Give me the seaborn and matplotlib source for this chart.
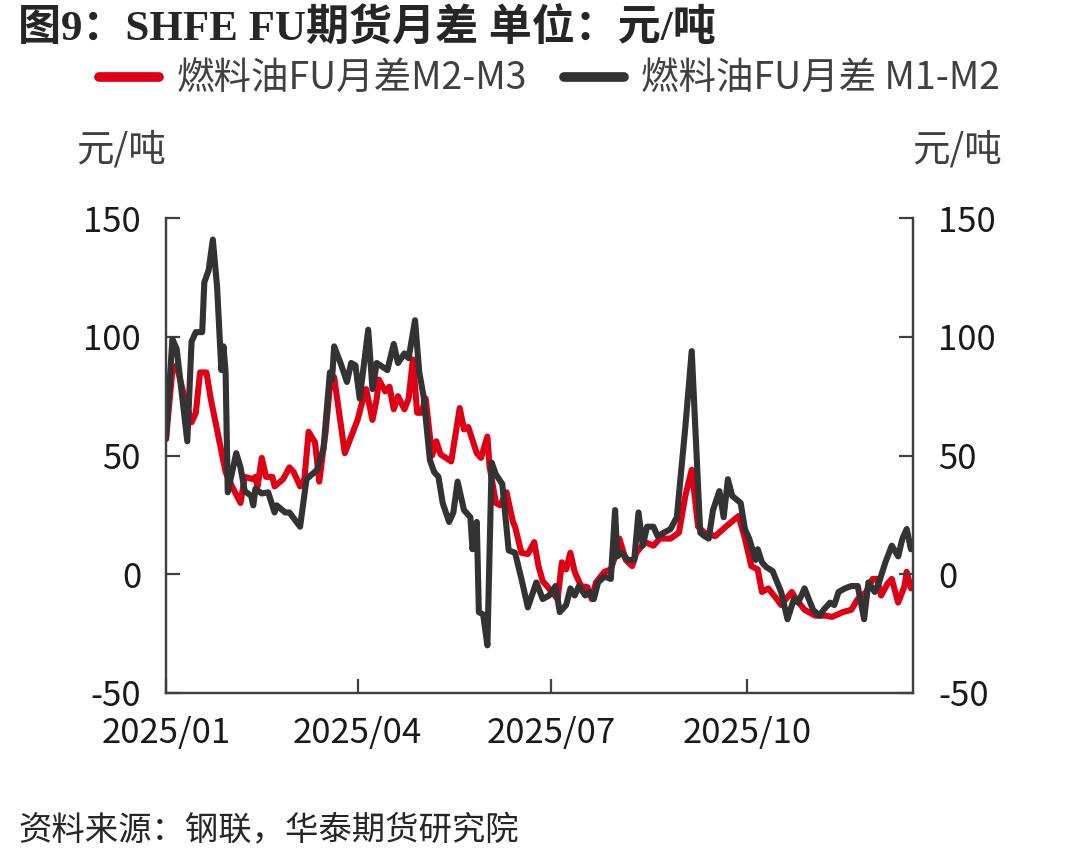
import pandas as pd
import numpy as np
import seaborn as sns
import matplotlib.pyplot as plt
import matplotlib.dates as mdates

# M2-M3 spread (red)
m23_dates = ['01-01', '01-04', '01-06', '01-09', '01-13', '01-15', '01-17', '01-20', '01-22', '01-29',
             '02-01', '02-05', '02-07', '02-11', '02-12', '02-13', '02-15', '02-17', '02-20', '02-21',
             '02-25', '02-28', '03-02', '03-05', '03-07', '03-09', '03-12', '03-14', '03-17', '03-19',
             '03-21', '03-26', '04-01', '04-03', '04-05', '04-08', '04-10', '04-11', '04-14', '04-16',
             '04-18', '04-20', '04-23', '04-25', '04-27', '04-29', '05-01', '05-03', '05-06', '05-08',
             '05-10', '05-15', '05-19', '05-21', '05-23', '05-27', '05-29', '06-01', '06-02', '06-05',
             '06-07', '06-10', '06-13', '06-14', '06-17', '06-20', '06-23', '06-25', '06-27', '06-29',
             '07-04', '07-06', '07-08', '07-10', '07-12', '07-15', '07-18', '07-20', '07-22', '07-26',
             '07-29', '07-31', '08-02', '08-05', '08-08', '08-10', '08-14', '08-18', '08-21', '08-26',
             '08-30', '09-02', '09-05', '09-08', '09-11', '09-16', '09-21', '09-27', '09-30', '10-03',
             '10-06', '10-08', '10-11', '10-15', '10-17', '10-22', '10-24', '10-28', '11-02', '11-07',
             '11-10', '11-15', '11-19', '11-22', '11-26', '11-29', '12-01', '12-03', '12-06', '12-08',
             '12-11', '12-14', '12-15', '12-17']
m23_values = [57, 86, 88, 77, 64, 68, 85, 85, 74, 43,
              37, 30, 41, 40, 41, 37, 49, 41, 41, 37,
              40, 45, 43, 37, 40, 60, 55.6, 39, 60, 79,
              83, 51, 65, 72, 78, 65, 74, 82, 77, 79,
              69.5, 75, 69.5, 74, 90.5, 68, 68, 74, 50, 56,
              50.5, 47.5, 70, 61, 62, 51, 49, 58, 45.5, 30,
              29, 34.5, 22, 20, 9, 8.5, 13.5, 3.4, -3, -5,
              -10.5, 5, 2, 9, 1, -5, -5.5, -10.5, -3.5, 1,
              2, 7.5, 15, 6, 3.4, 9, 13.5, 12, 15, 15,
              17.5, 33, 44, 20, 17.5, 16, 20, 24.5, 15, 3.4,
              2, -7.5, -6, -10.5, -13, -7.5, -10.5, -15, -17.5, -17.5,
              -18, -16, -15, -10.5, -7.5, -2, -2, -9, -4, -2,
              -12, -5, 1, -6]

# M1-M2 spread (dark grey)
m12_dates = ['01-01', '01-04', '01-06', '01-11', '01-13', '01-15', '01-18', '01-19', '01-21', '01-23',
             '01-25', '01-27', '01-28', '01-29', '01-30', '02-03', '02-05', '02-07', '02-10', '02-11',
             '02-12', '02-15', '02-18', '02-21', '02-22', '02-26', '02-28', '03-05', '03-08', '03-13',
             '03-16', '03-19', '03-20', '03-21', '03-24', '03-27', '03-29', '03-31', '04-02', '04-06',
             '04-08', '04-10', '04-15', '04-18', '04-20', '04-23', '04-25', '04-28', '04-30', '05-02',
             '05-05', '05-07', '05-09', '05-11', '05-14', '05-16', '05-18', '05-21', '05-24', '05-25',
             '05-27', '05-28', '05-30', '06-01', '06-03', '06-05', '06-08', '06-11', '06-14', '06-17',
             '06-20', '06-24', '06-27', '06-30', '07-03', '07-05', '07-08', '07-10', '07-12', '07-14',
             '07-17', '07-19', '07-21', '07-23', '07-26', '07-29', '07-31', '08-01', '08-03', '08-06',
             '08-09', '08-11', '08-13', '08-15', '08-18', '08-20', '08-23', '08-26', '08-29', '09-02',
             '09-05', '09-09', '09-11', '09-13', '09-15', '09-18', '09-20', '09-22', '09-24', '09-28',
             '09-30', '10-02', '10-05', '10-06', '10-08', '10-10', '10-13', '10-17', '10-20', '10-23',
             '10-25', '10-28', '11-01', '11-04', '11-06', '11-09', '11-11', '11-13', '11-16', '11-19',
             '11-22', '11-25', '11-27', '11-30', '12-02', '12-05', '12-08', '12-11', '12-13', '12-15',
             '12-17']
m12_values = [57, 99, 95, 56, 98, 102, 102, 123, 128, 141,
              121, 86, 96, 85, 34.5, 51, 45, 35, 33, 29,
              36, 34, 34.5, 26, 29, 26, 26, 20, 40, 44,
              53, 85, 82, 96, 89, 81, 89, 88, 74, 103,
              78, 89, 86, 97, 89, 93, 91, 107, 85, 75,
              48, 43, 41, 30, 22, 26, 39, 27, 24, 10.5,
              22, -16, -17, -30, 47, 42, 38, 10, 9, -2,
              -14, -3.5, -10.5, -9, -5, -16, -13, -6, -9, -5,
              -9, -7.5, -10.5, -3.5, -1, -2, 27, 7.5, 9, 6,
              6, 26, 12, 20, 20, 16, 17.5, 19, 24, 62,
              94, 17.5, 16, 15, 27, 35, 24, 40, 33, 30,
              19, 15, 6, 10.5, 5, 3, 1.3, -7.5, -19, -10.5,
              -12, -6, -15, -17.5, -15, -12, -13, -7.5, -6, -5,
              -5, -19, -3.5, -7.5, -3.5, 5, 12, 7.5, 15, 19,
              10.5]

series_names = ['燃料油FU月差M2-M3', '燃料油FU月差 M1-M2']
series_colors = ['#e00016', '#333333']
y_ticks = [-50, 0, 50, 100, 150]
x_tick_dates = ['2025-01-01', '2025-04-01', '2025-07-01', '2025-10-01']

df = pd.concat([
    pd.DataFrame({'date': pd.to_datetime(['2025-' + d for d in m23_dates]),
                  'value': m23_values, 'series': series_names[0]}),
    pd.DataFrame({'date': pd.to_datetime(['2025-' + d for d in m12_dates]),
                  'value': m12_values, 'series': series_names[1]}),
])

sns.set_style('white')
plt.rcParams['font.family'] = ['Noto Sans CJK SC', 'DejaVu Sans']
plt.rcParams['axes.unicode_minus'] = False

fig = plt.figure(figsize=(10.78, 8.66), dpi=100)
ax = fig.add_axes([0.154, 0.2, 0.693, 0.548])

sns.lineplot(data=df, x='date', y='value', hue='series', hue_order=series_names,
             palette=series_colors, linewidth=4.4, estimator=None, ax=ax)

ax.set_xlim(pd.Timestamp('2025-01-01'), pd.Timestamp('2025-12-18'))
ax.set_ylim(-50, 150)
ax.set_yticks(y_ticks)
ax.set_xticks(pd.to_datetime(x_tick_dates))
ax.xaxis.set_major_formatter(mdates.DateFormatter('%Y/%m'))
ax.set_xlabel('')
ax.set_ylabel('')

ax2 = ax.twinx()
ax2.set_ylim(-50, 150)
ax2.set_yticks(y_ticks)

spine_col = '#404040'
for a in (ax, ax2):
    a.spines['top'].set_visible(False)
    for s in ('left', 'right', 'bottom'):
        a.spines[s].set_color(spine_col)
        a.spines[s].set_linewidth(1.6)
    a.tick_params(axis='both', direction='in', length=10, width=1.6, color=spine_col,
                  labelsize=25, labelcolor='#1a1a1a')
ax.tick_params(axis='y', pad=18, left=True)
ax.tick_params(axis='x', pad=17, bottom=True)
ax2.tick_params(axis='y', pad=18, right=True)

handles, labels = ax.get_legend_handles_labels()
ax.get_legend().remove()
leg = fig.legend(handles, labels, loc='center', bbox_to_anchor=(0.51, 0.908), ncol=2,
                 frameon=False, fontsize=27, handlelength=1.6, handletextpad=0.45,
                 columnspacing=1.0, labelcolor='#404040')
for h in leg.get_lines():
    h.set_linewidth(7)

fig.text(0.017, 0.966, '图9：SHFE FU期货月差 单位：元/吨', fontsize=31, fontweight='bold',
         family=['Liberation Serif', 'Noto Sans CJK SC'], va='center', ha='left')
fig.text(0.112, 0.827, '元/吨', fontsize=27, color='#404040', ha='center', va='center')
fig.text(0.888, 0.827, '元/吨', fontsize=27, color='#404040', ha='center', va='center')
fig.text(0.017, 0.040, '资料来源：钢联，华泰期货研究院', fontsize=24, style='italic',
         ha='left', va='center')

fig.savefig('out.png', dpi=100)
